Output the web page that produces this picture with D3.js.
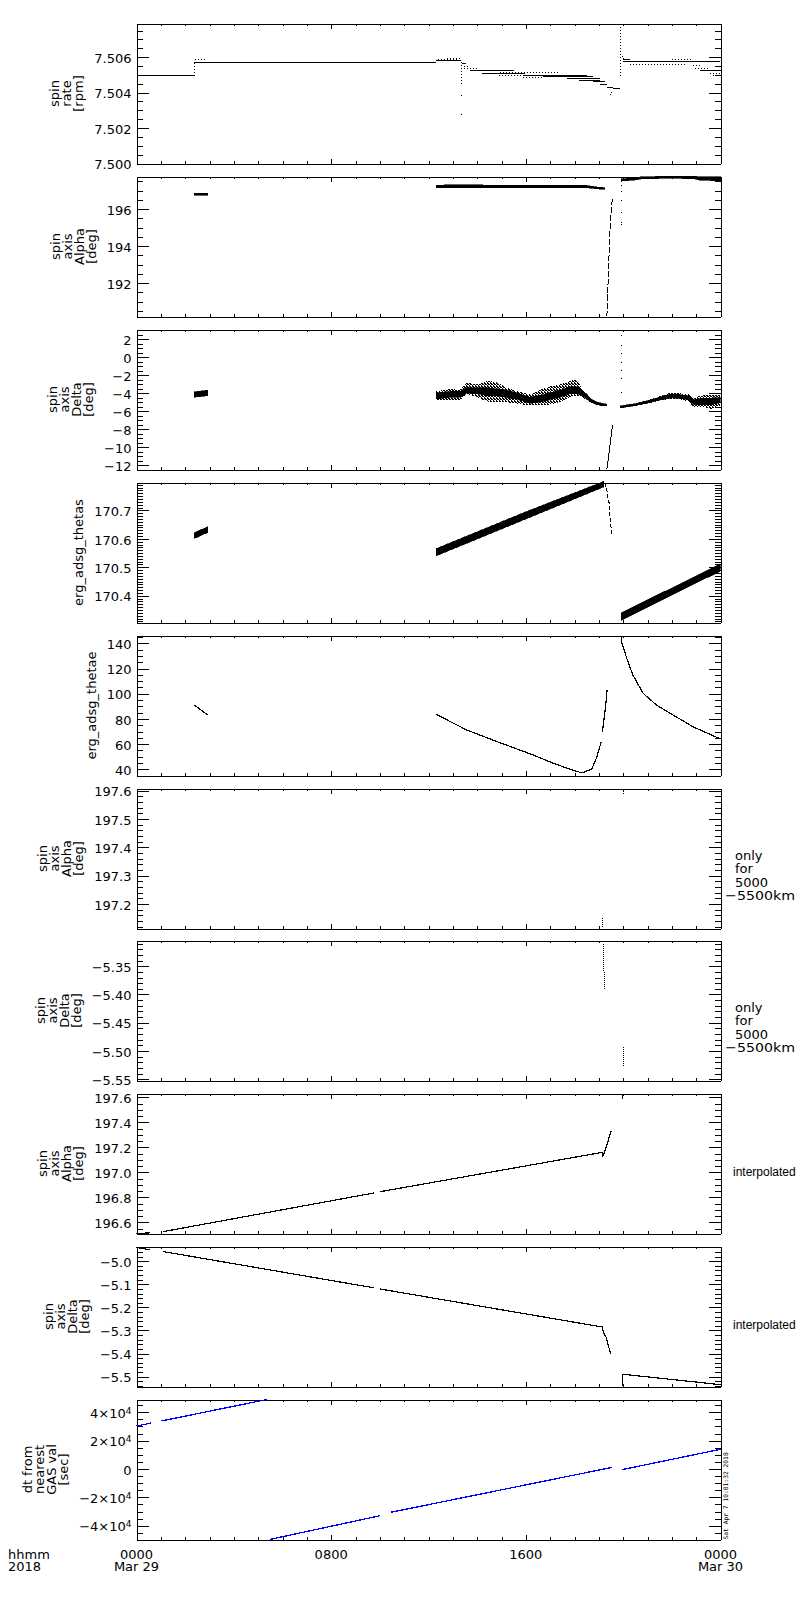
<!DOCTYPE html>
<html><head><meta charset="utf-8">
<script src="https://cdn.jsdelivr.net/npm/d3@7"></script>
<style>
body{margin:0;background:#fff}
svg{display:block}
text{font-family:"DejaVu Sans",sans-serif;font-size:13px;fill:#000}
text.narrow{font-family:"Liberation Sans",sans-serif;font-size:12px}
.stamp{font-family:"DejaVu Sans Mono",monospace;font-size:6.3px}
</style></head><body>
<svg id="c" width="800" height="1600"></svg>
<script>
// ================= DATA =================
const xTickHours = [0, 8, 16, 24];
const xTickLabels = ["0000", "0800", "1600", "0000"];
const xDateLabels = ["Mar 29", "", "", "Mar 30"];
const xCornerLabels = ["hhmm", "2018"];
const stampText = "Sat Apr  7 10:01:32 2018";

const panelTitles = [
  ["spin", "rate", "[rpm]"],
  ["spin", "axis", "Alpha", "[deg]"],
  ["spin", "axis", "Delta", "[deg]"],
  ["erg_adsg_thetas"],
  ["erg_adsg_thetae"],
  ["spin", "axis", "Alpha", "[deg]"],
  ["spin", "axis", "Delta", "[deg]"],
  ["spin", "axis", "Alpha", "[deg]"],
  ["spin", "axis", "Delta", "[deg]"],
  ["dt from", "nearest", "GAS val", "[sec]"]
];
const panelDomains = [
  [7.5000, 7.5079], [190.2, 197.77], [-12.47, 3.09], [170.306, 170.798], [35.1, 146.2],
  [197.113, 197.608], [-5.552, -5.3046], [196.511, 197.631], [-5.543, -4.936], [-49735, 49030]
];
const panelMajors = [
  [7.500, 7.502, 7.504, 7.506],
  [192, 194, 196],
  [-12, -10, -8, -6, -4, -2, 0, 2],
  [170.4, 170.5, 170.6, 170.7],
  [40, 60, 80, 100, 120, 140],
  [197.2, 197.3, 197.4, 197.5, 197.6],
  [-5.55, -5.50, -5.45, -5.40, -5.35],
  [196.6, 196.8, 197.0, 197.2, 197.4, 197.6],
  [-5.5, -5.4, -5.3, -5.2, -5.1, -5.0],
  [-40000, -20000, 0, 20000, 40000]
];
const panelMajorLabels = [
  ["7.500", "7.502", "7.504", "7.506"],
  ["192", "194", "196"],
  ["\u221212", "\u221210", "\u22128", "\u22126", "\u22124", "\u22122", "0", "2"],
  ["170.4", "170.5", "170.6", "170.7"],
  ["40", "60", "80", "100", "120", "140"],
  ["197.2", "197.3", "197.4", "197.5", "197.6"],
  ["\u22125.55", "\u22125.50", "\u22125.45", "\u22125.40", "\u22125.35"],
  ["196.6", "196.8", "197.0", "197.2", "197.4", "197.6"],
  ["\u22125.5", "\u22125.4", "\u22125.3", "\u22125.2", "\u22125.1", "\u22125.0"],
  ["\u22124\u00d710^4", "\u22122\u00d710^4", "0", "2\u00d710^4", "4\u00d710^4"]
];
const panelMinorSteps = [0.0005, 0.5, 0.5, 0.01, 5, 0.02, 0.01, 0.05, 0.02, 5000];
const panelRightNotes = [
  [], [], [], [], [],
  ["only", "for", "5000", "\u22125500km"],
  ["only", "for", "5000", "\u22125500km"],
  ["interpolated"],
  ["interpolated"],
  []
];

// ---- panel 1: spin rate (quantized levels) [h0, h1, value]
const rateSolid = [
  [0, 2.37, 7.50496], [2.37, 12.32, 7.50571], [12.32, 13.35, 7.50580], [13.38, 13.54, 7.50562],
  [13.71, 15.5, 7.50522], [14.2, 15.96, 7.50509], [15.9, 18.5, 7.50497], [16.72, 18.78, 7.50490],
  [17.7, 19.05, 7.50482], [18.2, 19.05, 7.50471], [18.78, 19.25, 7.50460], [19.05, 19.32, 7.50443],
  [19.32, 19.6, 7.50428], [19.6, 19.88, 7.50426], [20.0, 23.98, 7.50575], [20.0, 20.3, 7.50586],
  [23.15, 24, 7.50524]
];
const rateDotted = [
  [2.4, 2.9, 7.50586], [12.41, 13.17, 7.50586], [12.75, 13.3, 7.50595], [13.44, 13.71, 7.50545],
  [13.44, 13.99, 7.50535], [14.88, 15.9, 7.50497], [14.94, 17.4, 7.50515], [15.9, 16.72, 7.50484],
  [20.29, 22.6, 7.50558], [22.0, 22.8, 7.50586], [22.88, 23.15, 7.50555], [22.95, 23.5, 7.50537],
  [23.57, 24, 7.50509], [23.7, 24, 7.50497]
];
const rateSpikes = [[2.37, 7.50496, 7.50571], [13.35, 7.50571, 7.50440], [19.9, 7.50494, 7.50775]];
const rateDots = [[13.35, 7.50386], [13.35, 7.50278], [19.46, 7.50395], [19.48, 7.50405],
  [19.95, 7.50605], [19.98, 7.50597], [20.02, 7.50590]];

// ---- panel 2: spin axis alpha  [h, lo, hi]
const alphaBandEarly = [[2.38, 196.78, 196.84], [2.93, 196.79, 196.85]];
const alphaBand1 = [[12.32, 197.19, 197.28], [13.5, 197.20, 197.29], [14.5, 197.18, 197.28],
  [15.0, 197.19, 197.27], [16.5, 197.19, 197.28], [18.0, 197.20, 197.28], [18.5, 197.19, 197.26],
  [18.9, 197.13, 197.18], [19.25, 197.10, 197.14]];
const alphaBand2 = [[19.93, 197.55, 197.62], [20.45, 197.60, 197.66], [20.7, 197.66, 197.72],
  [21.8, 197.70, 197.76], [22.88, 197.68, 197.77], [23.15, 197.60, 197.72], [24, 197.56, 197.74]];
const alphaSteep = [[19.33, 190.2], [19.35, 190.83], [19.39, 192.45], [19.43, 193.89],
  [19.47, 195.15], [19.53, 196.23], [19.56, 196.6]];
const alphaDots = [[19.92, 197.5], [19.92, 197.3], [19.92, 197.0], [19.92, 196.5],
  [19.92, 195.87], [19.92, 195.33], [19.92, 195.19]];

// ---- panel 3: spin axis delta  [h, lo, hi]  (outer scatter envelope and dense core)
const deltaBandEarly = [[2.38, -4.37, -3.9], [2.65, -4.3, -3.8], [2.93, -4.2, -3.7]];
const deltaBand1 = [[12.32, -4.74, -3.82], [12.89, -4.67, -3.6], [13.3, -4.67, -3.67],
  [13.57, -4.0, -2.89], [13.99, -4.37, -3.07], [14.4, -4.85, -2.7], [14.8, -4.93, -2.78],
  [15.21, -4.93, -3.44], [15.62, -5.11, -3.82], [16.17, -5.30, -4.19], [16.58, -5.30, -3.67],
  [16.99, -5.2, -3.3], [17.4, -4.93, -3.07], [17.81, -4.37, -2.7], [18.08, -4.19, -2.52],
  [18.29, -4.26, -3.44], [18.5, -4.74, -4.0], [18.7, -5.0, -4.67], [18.9, -5.2, -5.0],
  [19.12, -5.35, -5.15], [19.33, -5.37, -5.26]];
const deltaCore1 = [[12.32, -4.55, -4.0], [12.89, -4.4, -3.85], [13.3, -4.4, -3.85],
  [13.57, -3.95, -3.4], [13.99, -4.0, -3.45], [14.4, -4.2, -3.45], [14.8, -4.2, -3.55],
  [15.21, -4.4, -3.7], [15.62, -4.6, -4.0], [16.17, -5.05, -4.5], [16.58, -4.95, -4.3],
  [16.99, -4.65, -4.0], [17.4, -4.4, -3.7], [17.81, -4.0, -3.35], [18.08, -4.0, -3.3],
  [18.29, -4.15, -3.6], [18.5, -4.6, -4.15], [18.7, -4.95, -4.7], [18.9, -5.18, -5.02],
  [19.12, -5.33, -5.17], [19.33, -5.36, -5.27]];
const deltaBand2 = [[19.88, -5.59, -5.44], [20.43, -5.37, -5.22], [20.98, -5.11, -4.85],
  [21.53, -4.74, -4.37], [21.94, -4.56, -4.0], [22.35, -4.63, -4.07], [22.7, -4.85, -4.19],
  [22.9, -5.48, -4.56], [23.3, -5.48, -4.26], [23.64, -5.67, -4.19], [23.98, -5.30, -4.19]];
const deltaCore2 = [[19.88, -5.57, -5.46], [20.43, -5.35, -5.24], [20.98, -5.05, -4.9],
  [21.53, -4.68, -4.45], [21.94, -4.45, -4.15], [22.35, -4.5, -4.2], [22.7, -4.7, -4.35],
  [22.9, -5.2, -4.8], [23.3, -5.2, -4.6], [23.64, -5.2, -4.6], [23.98, -5.0, -4.5]];
const deltaSteep = [[19.33, -12.47], [19.4, -11.0], [19.47, -9.5], [19.56, -7.52]];
const deltaDots = [[19.92, 2.48], [19.92, 1.37], [19.92, 0.44], [19.92, -0.49],
  [19.92, -1.41], [19.92, -2.33], [19.92, -3.82]];

// ---- panel 4: erg_adsg_thetas  [h, lo, hi]
const thetasBandEarly = [[2.38, 170.603, 170.620], [2.93, 170.624, 170.641]];
const thetasBand1 = [[12.32, 170.542, 170.564], [15.99, 170.671, 170.693], [19.2, 170.784, 170.800]];
const thetasBand2 = [[19.92, 170.316, 170.338], [23.99, 170.488, 170.510]];
const thetasDrop = [[19.2, 170.795], [19.25, 170.793], [19.32, 170.777], [19.39, 170.736],
  [19.43, 170.724], [19.46, 170.677], [19.53, 170.618]];

// ---- panel 5: erg_adsg_thetae  [h, value]
const thetaeSeg1 = [[2.38, 91.0], [2.93, 83.1]];
const thetaeSeg2 = [[12.32, 83.6], [13.57, 71.2], [14.94, 61.1], [16.3, 51.4], [17.13, 44.8],
  [17.82, 40.0], [18.3, 37.2], [18.7, 40.0], [18.9, 48.8], [19.1, 61.9]];
const thetaeSeg3 = [[19.15, 70.0], [19.27, 88.4], [19.34, 103.0]];
const thetaeSeg4 = [[19.92, 146.0], [19.95, 140.0], [20.15, 128.0], [20.4, 114.8], [20.82, 100.3],
  [21.37, 91.0], [22.05, 83.1], [22.87, 73.8], [23.94, 64.6], [24.0, 64.2]];

// ---- panel 6 / 7: values only for 5000-5500 km
const alphaFiltSegs = [[[19.14, 197.15], [19.16, 197.12]], [[20.0, 197.61], [20.0, 197.585]]];
const deltaFiltSegs = [[[19.2, -5.31], [19.22, -5.39]], [[20.0, -5.493], [20.0, -5.526]]];

// ---- panel 8 / 9: interpolated
const alphaInterpSegs = [
  [[0, 196.511], [0.55, 196.516]],
  [[1.1, 196.526], [9.75, 196.835]],
  [[10.0, 196.845], [19.14, 197.16], [19.17, 197.13], [19.3, 197.2], [19.5, 197.33]],
  [[19.96, 197.585], [20.0, 197.631]]
];
const deltaInterpSegs = [
  [[0, -4.94], [0.55, -4.95]],
  [[1.1, -4.958], [9.75, -5.115]],
  [[10.0, -5.12], [19.14, -5.285], [19.2, -5.31], [19.3, -5.33], [19.48, -5.40]],
  [[19.97, -5.543], [19.99, -5.49], [20.0, -5.49], [24, -5.535]]
];

// ---- panel 10: dt from nearest GAS value [h, sec]
const dtSegs = [
  [[0, 30300], [0.59, 32400]],
  [[1.03, 33900], [5.36, 49030]],
  [[5.47, -49735], [10.02, -32900]],
  [[10.45, -30550], [19.56, 1200]],
  [[19.97, -400], [24, 13900]]
];

// ================= DRAWING =================
const svg = d3.select("#c");
const defs = svg.append("defs");
const pat = defs.append("pattern").attr("id", "speck").attr("width", 3).attr("height", 3)
  .attr("patternUnits", "userSpaceOnUse");
[[0, 0], [1, 1], [2, 2], [2, 0], [1, 2]].forEach(([a, b]) =>
  pat.append("rect").attr("x", a).attr("y", b).attr("width", 1).attr("height", 1).attr("fill", "#000"));

const L = 136.5, R = 720.5, TOP0 = 23.3, PITCH = 152.86, PH = 140;
const x = d3.scaleLinear().domain([0, 24]).range([L, R]);
const hourMinor = d3.range(0, 25);

function minorTicks(dom, step) {
  const k0 = Math.ceil(dom[0] / step - 1e-9), k1 = Math.floor(dom[1] / step + 1e-9);
  return d3.range(k0, k1 + 1).map(k => +(k * step).toFixed(6));
}

const panelY = [];
panelDomains.forEach((dom, i) => {
  const top = Math.round(TOP0 + i * PITCH) + 0.5, bot = top + PH;
  const y = d3.scaleLinear().domain(dom).range([bot, top]);
  panelY.push(y);
  const g = svg.append("g");
  const isLast = i === panelDomains.length - 1;

  [[d3.axisTop, top], [d3.axisBottom, bot]].forEach(([fn, yy]) => {
    g.append("g").attr("transform", `translate(0,${yy})`)
      .call(fn(x).tickValues(hourMinor).tickSize(-2.5).tickSizeOuter(0).tickFormat(""));
    g.append("g").attr("transform", `translate(0,${yy})`)
      .call(fn(x).tickValues(xTickHours).tickSize(-5).tickSizeOuter(0).tickFormat(""));
  });

  const mins = minorTicks(dom, panelMinorSteps[i]);
  g.append("g").attr("transform", `translate(${L},0)`)
    .call(d3.axisLeft(y).tickValues(mins).tickSize(-6).tickSizeOuter(0).tickFormat(""));
  const labels = panelMajorLabels[i];
  const yl = g.append("g").attr("class", "ylab").attr("transform", `translate(${L},0)`)
    .call(d3.axisLeft(y).tickValues(panelMajors[i]).tickSize(-12).tickSizeOuter(0)
      .tickPadding(5).tickFormat((d, k) => labels[k]));
  yl.selectAll(".tick text").attr("dy", "0.4em").each(function (d, k) {
    const s = labels[k];
    if (s.includes("^")) {
      const [base, sup] = s.split("^");
      const t = d3.select(this).text(null);
      t.append("tspan").text(base);
      t.append("tspan").attr("dy", "-0.45em").style("font-size", "9px").text(sup);
    }
  });
  g.append("g").attr("transform", `translate(${R},0)`)
    .call(d3.axisRight(y).tickValues(mins).tickSize(-6).tickSizeOuter(0).tickFormat(""));
  g.append("g").attr("transform", `translate(${R},0)`)
    .call(d3.axisRight(y).tickValues(panelMajors[i]).tickSize(-12).tickSizeOuter(0).tickFormat(""));
  g.selectAll(".domain").attr("stroke", "#000");
  g.selectAll(".tick line").attr("stroke", "#000");
  g.attr("shape-rendering", "crispEdges");

  let labelLeft = Infinity;
  yl.selectAll(".tick text").each(function () {
    labelLeft = Math.min(labelLeft, this.getBoundingClientRect().left);
  });
  const lines = panelTitles[i], n = lines.length, cy = (top + bot) / 2;
  lines.forEach((s, j) => {
    const bx = labelLeft - 11 - (n - 1 - j) * 12;
    svg.append("text").attr("transform", `translate(${bx},${cy}) rotate(-90)`)
      .attr("text-anchor", "middle").text(s);
  });

  const notes = panelRightNotes[i];
  notes.forEach((s, j) => {
    const off = notes.length > 1 ? 1 : 12;
    const t = svg.append("text").attr("x", s.startsWith("\u2212") ? 725 : 735)
      .attr("y", cy + off + j * 13.5).text(s);
    if (s === "interpolated") t.attr("class", "narrow").attr("x", 733);
    if (s.startsWith("\u2212")) t.attr("textLength", 70).attr("lengthAdjust", "spacingAndGlyphs");
  });

  if (isLast) {
    xTickHours.forEach((h, k) => {
      svg.append("text").attr("x", x(h)).attr("y", bot + 19).attr("text-anchor", "middle").text(xTickLabels[k]);
      if (xDateLabels[k]) svg.append("text").attr("x", x(h)).attr("y", bot + 31)
        .attr("text-anchor", "middle").text(xDateLabels[k]);
    });
    svg.append("text").attr("x", 8).attr("y", bot + 19).text(xCornerLabels[0]);
    svg.append("text").attr("x", 8).attr("y", bot + 31).text(xCornerLabels[1]);
    svg.append("text").attr("class", "stamp")
      .attr("transform", `translate(727.5,${bot}) rotate(-90)`).text(stampText);
  }
});

// ---- data marks
const data = svg.append("g").attr("shape-rendering", "crispEdges");
function drawLine(i, pts, opts = {}) {
  const y = panelY[i];
  const dom = y.domain();
  data.append("path").datum(pts)
    .attr("d", d3.line().x(d => x(d[0])).y(d => y(Math.max(dom[0], Math.min(dom[1], d[1])))))
    .attr("fill", "none").attr("stroke", opts.color || "#000")
    .attr("stroke-width", opts.w || 1)
    .attr("stroke-dasharray", opts.dash || null);
}
function drawBand(i, pts, fill) {
  const y = panelY[i];
  const p = data.append("path").datum(pts)
    .attr("d", d3.area().x(d => x(d[0])).y0(d => y(d[1]) + 0.5).y1(d => y(d[2]) - 0.5))
    .attr("fill", fill || "#000");
  if (!fill) p.attr("stroke", "#000").attr("stroke-width", 0.6);
}
function drawDots(i, pts) {
  const y = panelY[i];
  data.selectAll(null).data(pts).enter().append("rect")
    .attr("x", d => Math.round(x(d[0]))).attr("y", d => Math.round(y(d[1])))
    .attr("width", 1.2).attr("height", 1.2).attr("fill", "#000");
}

// panel 1
rateSolid.forEach(s => drawLine(0, [[s[0], s[2]], [s[1], s[2]]]));
rateDotted.forEach(s => drawLine(0, [[s[0], s[2]], [s[1], s[2]]], { dash: "1,2" }));
rateSpikes.forEach(s => drawLine(0, [[s[0], s[1]], [s[0], s[2]]], { dash: "1,2" }));
drawDots(0, rateDots);
// panel 2
drawBand(1, alphaBandEarly); drawBand(1, alphaBand1); drawBand(1, alphaBand2);
drawLine(1, alphaSteep, { dash: "6,2" }); drawDots(1, alphaDots);
// panel 3
drawBand(2, deltaBandEarly);
drawBand(2, deltaBand1, "url(#speck)"); drawBand(2, deltaCore1);
drawBand(2, deltaBand2, "url(#speck)"); drawBand(2, deltaCore2);
drawLine(2, deltaSteep); drawDots(2, deltaDots);
// panel 4
drawBand(3, thetasBandEarly); drawBand(3, thetasBand1); drawBand(3, thetasBand2);
drawLine(3, thetasDrop, { dash: "4,2" });
// panel 5
[thetaeSeg1, thetaeSeg2, thetaeSeg3, thetaeSeg4].forEach(s => drawLine(4, s, { w: 1.2 }));
// panel 6, 7
alphaFiltSegs.forEach(s => drawLine(5, s, { dash: "1,1" }));
deltaFiltSegs.forEach(s => drawLine(6, s, { dash: "1,1" }));
// panel 8, 9
alphaInterpSegs.forEach(s => drawLine(7, s, { w: 1.2 }));
deltaInterpSegs.forEach(s => drawLine(8, s, { w: 1.2 }));
// panel 10
dtSegs.forEach(s => drawLine(9, s, { color: "#0000ff", w: 1.3 }));
</script>
</body></html>
